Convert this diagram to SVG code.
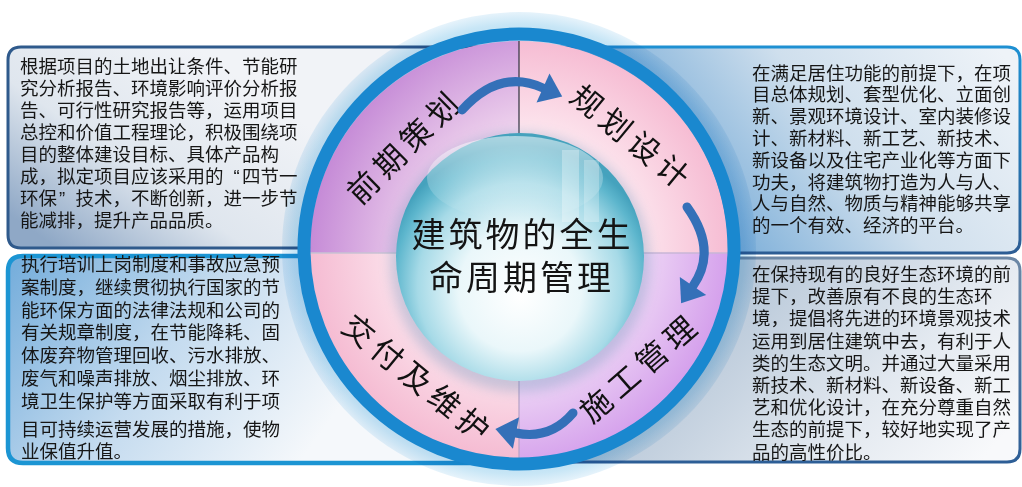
<svg xmlns="http://www.w3.org/2000/svg" width="1022" height="487" viewBox="0 0 1022 487">
<defs>
<style>
.body{font-family:"Liberation Sans","Noto Sans CJK SC",sans-serif;font-size:18.5px;fill:#161616}
.stage{font-family:"Liberation Sans","Noto Sans CJK SC",sans-serif;font-size:31px;fill:#111;letter-spacing:6px}
.hub{font-family:"Liberation Sans","Noto Sans CJK SC",sans-serif;font-size:34px;fill:#141414;letter-spacing:3px}
.arrow{fill:none;stroke:#3470b8;stroke-width:9;stroke-linecap:round}
.head{fill:#3470b8}
</style>
<linearGradient id="gTL" gradientUnits="userSpaceOnUse" x1="200" y1="50" x2="60" y2="250">
<stop offset="0" stop-color="#f1f3f7"/><stop offset="0.55" stop-color="#dfe6ee"/><stop offset="1" stop-color="#8fa8c6"/>
</linearGradient>
<linearGradient id="gTR" gradientUnits="userSpaceOnUse" x1="1000" y1="50" x2="740" y2="245">
<stop offset="0" stop-color="#eef3f8"/><stop offset="0.55" stop-color="#cfdfed"/><stop offset="1" stop-color="#82b2da"/>
</linearGradient>
<linearGradient id="gBL" gradientUnits="userSpaceOnUse" x1="20" y1="260" x2="300" y2="462">
<stop offset="0" stop-color="#78afdc"/><stop offset="0.5" stop-color="#c4dbef"/><stop offset="1" stop-color="#f5f8fb"/>
</linearGradient>
<linearGradient id="gBR" gradientUnits="userSpaceOnUse" x1="760" y1="260" x2="980" y2="462">
<stop offset="0" stop-color="#b7c7d8"/><stop offset="0.6" stop-color="#e3e9f0"/><stop offset="1" stop-color="#f8f9fb"/>
</linearGradient>
<linearGradient id="sTR" x1="0" y1="0" x2="0" y2="1">
<stop offset="0" stop-color="#1e90d2"/><stop offset="1" stop-color="#2d5d94"/>
</linearGradient>
<linearGradient id="sBR" x1="0" y1="0" x2="0" y2="1">
<stop offset="0" stop-color="#6d88a6"/><stop offset="1" stop-color="#2d5e96"/>
</linearGradient>
<radialGradient id="gHalo" gradientUnits="userSpaceOnUse" cx="519" cy="249" r="237">
<stop offset="0.88" stop-color="#b3daf1"/><stop offset="0.95" stop-color="#c8e6f6"/><stop offset="1" stop-color="#e6f3fb"/>
</radialGradient>
<radialGradient id="qTL" gradientUnits="userSpaceOnUse" cx="560" cy="260" r="260">
<stop offset="0.45" stop-color="#f6e0f1"/><stop offset="1" stop-color="#c285d5"/>
</radialGradient>
<radialGradient id="qTR" gradientUnits="userSpaceOnUse" cx="519" cy="250" r="210">
<stop offset="0.55" stop-color="#fde7ef"/><stop offset="1" stop-color="#f6bcd3"/>
</radialGradient>
<radialGradient id="qBR" gradientUnits="userSpaceOnUse" cx="500" cy="240" r="250">
<stop offset="0.5" stop-color="#f3e1f7"/><stop offset="1" stop-color="#cf94ea"/>
</radialGradient>
<radialGradient id="qBL" gradientUnits="userSpaceOnUse" cx="519" cy="250" r="210">
<stop offset="0.55" stop-color="#fce4ed"/><stop offset="1" stop-color="#f5bbd2"/>
</radialGradient>
<radialGradient id="gSphere" cx="0.5" cy="0.6" r="0.55" fx="0.5" fy="0.66">
<stop offset="0" stop-color="#ffffff"/><stop offset="0.45" stop-color="#eaf7fa"/><stop offset="0.75" stop-color="#a6dae7"/><stop offset="0.92" stop-color="#5db6cd"/><stop offset="1" stop-color="#45a2bd"/>
</radialGradient>
<linearGradient id="gShine" x1="0" y1="0" x2="0" y2="1">
<stop offset="0" stop-color="#ffffff" stop-opacity="0.55"/><stop offset="1" stop-color="#ffffff" stop-opacity="0"/>
</linearGradient>
<clipPath id="disc"><circle cx="519" cy="250" r="209"/></clipPath>
<filter id="blur" x="-20%" y="-20%" width="140%" height="140%"><feGaussianBlur stdDeviation="6"/></filter>
</defs>

<rect width="1022" height="487" fill="#ffffff"/>

<g id="box-tl">
<path d="M560 47 H21 Q8 47 8 60 V235 Q8 248 21 248 H560 Z" fill="url(#gTL)" stroke="#2f5a8c" stroke-width="3"/>
<text class="body">
<tspan x="20" y="72.5">根据项目的土地出让条件、节能研</tspan>
<tspan x="20" y="94.5">究分析报告、环境影响评价分析报</tspan>
<tspan x="20" y="116.5">告、可行性研究报告等，运用项目</tspan>
<tspan x="20" y="138.5">总控和价值工程理论，积极围绕项</tspan>
<tspan x="20" y="160.5">目的整体建设目标、具体产品构</tspan>
<tspan x="20" y="182.5">成，拟定项目应该采用的<tspan dx="10">“</tspan><tspan dx="2.3">四节一</tspan></tspan>
<tspan x="20" y="204.5">环保<tspan dx="2">”</tspan><tspan dx="10.3">技术，不断创新，进一步节</tspan></tspan>
<tspan x="20" y="226.5">能减排，提升产品品质。</tspan>
</text>
</g>

<g id="box-tr">
<path d="M480 47 H1007 Q1020 47 1020 60 V240 Q1020 253 1007 253 H480 Z" fill="url(#gTR)" stroke="url(#sTR)" stroke-width="3"/>
<text class="body">
<tspan x="752" y="79.5">在满足居住功能的前提下，在项</tspan>
<tspan x="752" y="101.3">目总体规划、套型优化、立面创</tspan>
<tspan x="752" y="123.1">新、景观环境设计、室内装修设</tspan>
<tspan x="752" y="144.9">计、新材料、新工艺、新技术、</tspan>
<tspan x="752" y="166.7">新设备以及住宅产业化等方面下</tspan>
<tspan x="752" y="188.5">功夫，将建筑物打造为人与人、</tspan>
<tspan x="752" y="210.3">人与自然、物质与精神能够共享</tspan>
<tspan x="752" y="232.1">的一个有效、经济的平台。</tspan>
</text>
</g>

<g id="box-bl">
<path d="M560 256 H23 Q8 256 8 271 V448 Q8 463 23 463 H560 Z" fill="url(#gBL)" stroke="#1c95d3" stroke-width="4.5"/>
<text class="body">
<tspan x="21" y="271">执行培训上岗制度和事故应急预</tspan>
<tspan x="21" y="294">案制度，继续贯彻执行国家的节</tspan>
<tspan x="21" y="316.5">能环保方面的法律法规和公司的</tspan>
<tspan x="21" y="339">有关规章制度，在节能降耗、固</tspan>
<tspan x="21" y="362">体废弃物管理回收、污水排放、</tspan>
<tspan x="21" y="385">废气和噪声排放、烟尘排放、环</tspan>
<tspan x="21" y="407.5">境卫生保护等方面采取有利于项</tspan>
<tspan x="21" y="436">目可持续运营发展的措施，使物</tspan>
<tspan x="21" y="457.5">业保值升值。</tspan>
</text>
</g>

<g id="box-br">
<path d="M480 258 H1007 Q1020 258 1020 271 V449 Q1020 462 1007 462 H480 Z" fill="url(#gBR)" stroke="url(#sBR)" stroke-width="3"/>
<text class="body">
<tspan x="752" y="281">在保持现有的良好生态环境的前</tspan>
<tspan x="752" y="303.2">提下，改善原有不良的生态环</tspan>
<tspan x="752" y="325.4">境，提倡将先进的环境景观技术</tspan>
<tspan x="752" y="347.6">运用到居住建筑中去，有利于人</tspan>
<tspan x="752" y="369.8">类的生态文明。并通过大量采用</tspan>
<tspan x="752" y="392">新技术、新材料、新设备、新工</tspan>
<tspan x="752" y="414.2">艺和优化设计，在充分尊重自然</tspan>
<tspan x="752" y="436.4">生态的前提下，较好地实现了产</tspan>
<tspan x="752" y="458.6">品的高性价比。</tspan>
</text>
</g>

<g id="wheel">
<circle cx="519" cy="249" r="237" fill="url(#gHalo)" style="mix-blend-mode:multiply"/>
<g clip-path="url(#disc)">
<rect x="300" y="30" width="219" height="223" fill="url(#qTL)"/>
<rect x="519" y="30" width="220" height="223" fill="url(#qTR)"/>
<rect x="519" y="253" width="220" height="220" fill="url(#qBR)"/>
<rect x="300" y="253" width="219" height="220" fill="url(#qBL)"/>
<line x1="519" y1="38" x2="519" y2="145" stroke="#3d3d4a" stroke-width="1.3"/>
<line x1="519" y1="375" x2="519" y2="462" stroke="#b9a5c8" stroke-width="1.3"/>
<line x1="300" y1="253" x2="400" y2="253" stroke="#c9c2d3" stroke-width="1.3"/>
<line x1="640" y1="253" x2="740" y2="253" stroke="#c9b6d6" stroke-width="1.3"/>
</g>
<circle cx="519" cy="249" r="215" fill="none" stroke="#1a88cf" stroke-width="13"/>
<circle cx="520" cy="262" r="130" fill="#6f93bb" opacity="0.35" filter="url(#blur)"/>
<circle cx="520" cy="257" r="124" fill="url(#gSphere)"/>
<ellipse cx="515" cy="178" rx="88" ry="42" fill="url(#gShine)"/>
<rect x="562" y="150" width="17" height="72" fill="#ffffff" opacity="0.3"/>
<rect x="584" y="160" width="15" height="62" fill="#ffffff" opacity="0.25"/>
</g>

<g id="hub">
<text class="hub" text-anchor="middle" dominant-baseline="central" x="522.5" y="235">建筑物的全生</text>
<text class="hub" text-anchor="middle" dominant-baseline="central" x="521.5" y="278">命周期管理</text>
</g>

<g id="stage-plan">
<text class="stage" text-anchor="middle" dominant-baseline="central" transform="translate(403.5 149) rotate(-44.6)" x="3">前期策划</text>
</g>
<g id="stage-design">
<text class="stage" text-anchor="middle" dominant-baseline="central" transform="translate(629.5 137) rotate(39.5)" x="3">规划设计</text>
</g>
<g id="stage-build">
<text class="stage" text-anchor="middle" dominant-baseline="central" transform="translate(638.5 370) rotate(-41)" x="3">施工管理</text>
</g>
<g id="stage-deliver">
<text class="stage" text-anchor="middle" dominant-baseline="central" transform="translate(415.5 378.5) rotate(39.5)" x="3">交付及维护</text>
</g>

<g id="connectors">
<path class="arrow" d="M462 110 Q500 68 543 88"/>
<polygon class="head" points="536.5,102.6 549.5,73.4 562.2,96.5"/>
<path class="arrow" d="M687 207 Q718 250 693 286"/>
<polygon class="head" points="706.2,295.1 679.8,276.9 681.1,303.3"/>
<path class="arrow" d="M573 413 Q550 440 516 433"/>
<polygon class="head" points="519.1,417.3 512.9,448.7 495.4,428.9"/>
</g>
</svg>
